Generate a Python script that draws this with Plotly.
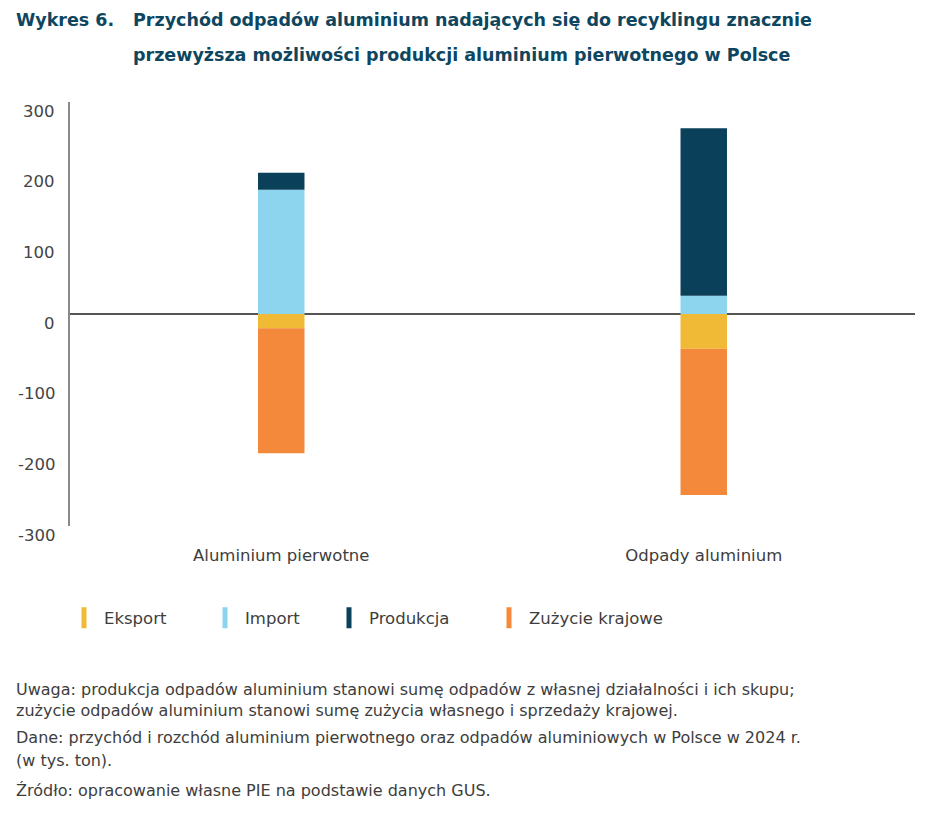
import plotly.graph_objects as go

# data (tys. ton)
categories = ["Aluminium pierwotne", "Odpady aluminium"]
eksport = [-20, -49]
import_ = [176, 26]
produkcja = [24, 237]
zuzycie = [-177, -207]
series_names = ["Eksport", "Import", "Produkcja", "Zużycie krajowe"]
colors = ["#f0b936", "#8dd5ee", "#0b405a", "#f4893b"]
y_ticks = [300, 200, 100, 0, -100, -200, -300]

# page has an 8px body margin, so the figure is drawn 8px in from the corner
OFF = 8
W, H = 930, 810
L, R, T, B = 62, 23, 94, 292


def px(xpage):
    return (xpage - OFF - L) / (W - L - R)


def py(ypage):
    return (H - B - (ypage - OFF)) / (H - T - B)


fig = go.Figure()

series = [eksport, import_, produkcja, zuzycie]
legend_ids = ["legend", "legend2", "legend3", "legend4"]
for name, vals, col in zip(series_names, series, colors):
    fig.add_trace(go.Bar(x=categories, y=vals, name=name, width=0.11,
                         marker=dict(color=col, line=dict(width=0)),
                         showlegend=False))

# legend entries with thin vertical markers
for name, col, lid in zip(series_names, colors, legend_ids):
    fig.add_trace(go.Scatter(x=[None], y=[None], mode="markers", name=name,
                             legend=lid,
                             marker=dict(symbol="line-ns", size=15,
                                         line=dict(width=7, color=col))))

font = "DejaVu Sans"
txt_col = "#3d3d3d"
leg_x = [84, 225, 349, 509]
legends = {}
for lid, xs in zip(legend_ids, leg_x):
    legends[lid] = dict(x=px(xs - 20), y=py(618), xanchor="left", yanchor="middle",
                        orientation="h", bgcolor="rgba(0,0,0,0)",
                        font=dict(family=font, size=16.5, color=txt_col))

fig.update_layout(
    width=W, height=H,
    margin=dict(l=L, r=R, t=T, b=B),
    paper_bgcolor="white", plot_bgcolor="white",
    barmode="relative",
    **legends,
)

fig.update_xaxes(range=[-0.5, 1.5], showgrid=False, showline=False, zeroline=False,
                 ticks="", ticklabelstandoff=17,
                 tickfont=dict(family=font, size=16.5, color=txt_col))
fig.update_yaxes(range=[-300, 300], showgrid=False, showline=True,
                 linecolor="#8a8a8a", linewidth=1.5,
                 zeroline=True, zerolinecolor="#555555", zerolinewidth=1.5,
                 tickvals=y_ticks, showticklabels=False, ticks="")

# y tick labels sit a little below their ticks in the original
for v in y_ticks:
    fig.add_annotation(x=0, xref="paper", y=v, yref="y", text=str(v),
                       xanchor="right", yanchor="middle", xshift=-13, yshift=-9,
                       showarrow=False,
                       font=dict(family=font, size=16.5, color="#444444"))

title_col = "#0e4660"
tfont = dict(family=font, size=17.5, color=title_col)
fig.add_annotation(x=px(14), xref="paper", y=py(20), yref="paper",
                   text="<b>Wykres 6.</b>", xanchor="left", yanchor="middle",
                   showarrow=False, font=tfont)
fig.add_annotation(x=px(131), xref="paper", y=py(20), yref="paper",
                   text="<b>Przychód odpadów aluminium nadających się do recyklingu znacznie</b>",
                   xanchor="left", yanchor="middle", showarrow=False, font=tfont)
fig.add_annotation(x=px(131), xref="paper", y=py(55), yref="paper",
                   text="<b>przewyższa możliwości produkcji aluminium pierwotnego w Polsce</b>",
                   xanchor="left", yanchor="middle", showarrow=False, font=tfont)

notes = [
    ("Uwaga: produkcja odpadów aluminium stanowi sumę odpadów z własnej działalności i ich skupu;", 689),
    ("zużycie odpadów aluminium stanowi sumę zużycia własnego i sprzedaży krajowej.", 710),
    ("Dane: przychód i rozchód aluminium pierwotnego oraz odpadów aluminiowych w Polsce w 2024 r.", 737),
    ("(w tys. ton).", 760),
    ("Źródło: opracowanie własne PIE na podstawie danych GUS.", 790),
]
for txt, ypos in notes:
    fig.add_annotation(x=px(14), xref="paper", y=py(ypos), yref="paper", text=txt,
                       xanchor="left", yanchor="middle", showarrow=False,
                       font=dict(family=font, size=16, color=txt_col))

fig.write_html("out.html")
